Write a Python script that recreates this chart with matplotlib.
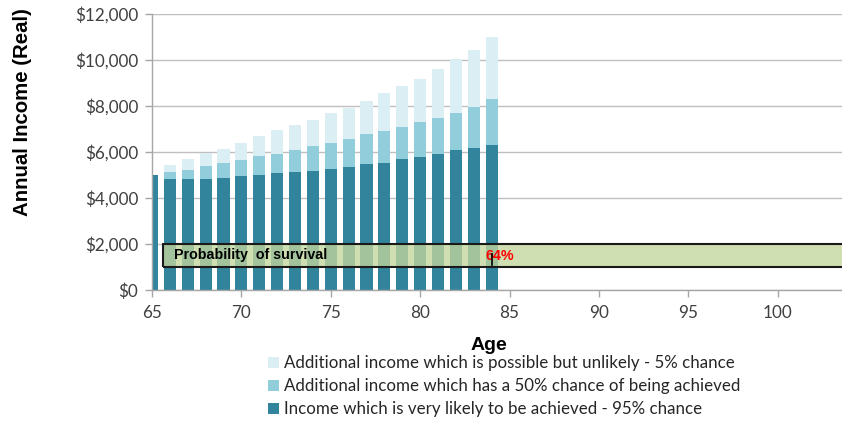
import matplotlib
matplotlib.use("Agg")
import matplotlib.pyplot as plt
from matplotlib.patches import Rectangle
from matplotlib.ticker import FuncFormatter
import numpy as np

# Income projection by age (real dollars)
ages = [65, 66, 67, 68, 69, 70, 71, 72, 73, 74, 75, 76, 77, 78, 79, 80, 81, 82, 83, 84]
income_95 = [5000, 4840, 4840, 4840, 4880, 4960, 5000, 5070, 5140, 5190,
             5260, 5350, 5460, 5540, 5700, 5770, 5910, 6070, 6190, 6300]
income_50 = [5000, 5120, 5220, 5390, 5540, 5650, 5810, 5930, 6070, 6280,
             6380, 6580, 6770, 6930, 7100, 7300, 7490, 7710, 7970, 8300]
income_5 = [5000, 5420, 5680, 5960, 6130, 6410, 6680, 6940, 7170, 7410,
            7710, 7900, 8220, 8570, 8870, 9170, 9590, 10060, 10430, 11010]

survival_label = "Probability  of survival"
survival_pct = "64%"
survival_age = 84
survival_band = (1000, 2000)
survival_start = 65.6

legend_labels = [
    "Additional income which is possible but unlikely - 5% chance",
    "Additional income which has a 50% chance of being achieved",
    "Income which is very likely to be achieved - 95% chance",
]

c_dark = "#31849B"
c_mid = "#92CDDC"
c_light = "#DAEEF3"

fig = plt.figure(figsize=(8.42, 4.24), dpi=100)
ax = fig.add_axes([152 / 842, 1 - 290 / 424, 1 - 152 / 842, (290 - 14) / 424])

x = np.array(ages, dtype=float)
lo = np.array(income_95, dtype=float)
mid = np.array(income_50, dtype=float)
hi = np.array(income_5, dtype=float)
w = 0.68

b1 = ax.bar(x, lo, width=w, color=c_dark, zorder=2)
b2 = ax.bar(x, mid - lo, bottom=lo, width=w, color=c_mid, zorder=2)
b3 = ax.bar(x, hi - mid, bottom=mid, width=w, color=c_light, zorder=2)

ax.set_xlim(65, 103.6)
ax.set_ylim(0, 12000)
ax.set_xticks([65, 70, 75, 80, 85, 90, 95, 100])
ax.set_yticks(np.arange(0, 12001, 2000))
ax.yaxis.set_major_formatter(FuncFormatter(lambda v, p: f"${v:,.0f}"))

ax.grid(axis="y", color="#BFBFBF", lw=1.0, zorder=0)
ax.set_axisbelow(True)
for s in ["top", "right"]:
    ax.spines[s].set_visible(False)
for s in ["left", "bottom"]:
    ax.spines[s].set_color("#A6A6A6")
    ax.spines[s].set_linewidth(1.0)
ax.tick_params(axis="both", colors="#A6A6A6", labelcolor="#404040",
               length=5, width=1, labelsize=12.3)
ax.tick_params(axis="x", pad=6)
ax.tick_params(axis="y", pad=5)
for lab in ax.get_xticklabels() + ax.get_yticklabels():
    lab.set_family("Lato")

# Survival probability band
band = Rectangle((survival_start, survival_band[0]), 120, survival_band[1] - survival_band[0],
                 facecolor="#C3D69B", alpha=0.78, edgecolor="none", zorder=3)
ax.add_patch(band)
ax.add_patch(Rectangle((survival_start, survival_band[0]), 120, survival_band[1] - survival_band[0],
                       facecolor="none", edgecolor="#1A1A1A", lw=1.5, zorder=4, clip_on=True))
ymid = (survival_band[0] + survival_band[1]) / 2
ax.text(survival_start + 0.65, ymid, survival_label, fontsize=10.3, fontweight="bold",
        family="Liberation Sans", color="black", va="center", ha="left", zorder=5)
ax.text(survival_age - 0.35, ymid, survival_pct, fontsize=10.3, fontweight="bold",
        family="Liberation Sans", color="#FF0000", va="center", ha="left", zorder=5)
ax.plot([survival_age, survival_age], [survival_band[0] + 80, ymid + 80], color="black",
        lw=1.2, zorder=5)

fig.text(22.5 / 842, 1 - 112 / 424, "Annual Income (Real)", rotation=90, fontsize=14.7,
         fontweight="bold", family="Liberation Sans", ha="center", va="center")
fig.text(489 / 842, 1 - 345 / 424, "Age", fontsize=14, fontweight="bold",
         family="Liberation Sans", ha="center", va="center")

leg = fig.legend([b3, b2, b1], legend_labels, loc="upper left",
                 bbox_to_anchor=(268 / 842, 1 - 355 / 424), frameon=False,
                 prop={"family": "Lato", "size": 12.2}, handlelength=0.62,
                 handleheight=0.62, handletextpad=0.35, labelspacing=0.42,
                 borderaxespad=0, borderpad=0)
for t in leg.get_texts():
    t.set_color("#262626")

fig.savefig("out.png", dpi=100)
